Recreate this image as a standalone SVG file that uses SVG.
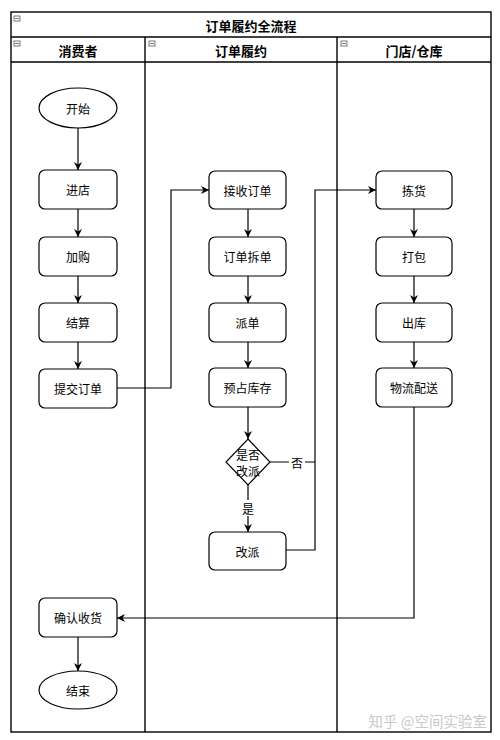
<svg xmlns="http://www.w3.org/2000/svg" width="500" height="740" viewBox="0 0 500 740">
<style>
.t{font-family:"Noto Sans CJK SC","Noto Sans",sans-serif;font-size:12px;fill:#000;text-anchor:middle;dominant-baseline:central}
.h{font-family:"Noto Sans CJK SC","Noto Sans",sans-serif;font-size:13px;font-weight:bold;fill:#000;text-anchor:middle;dominant-baseline:central}
.n{fill:#fff;stroke:#000;stroke-width:1.2}
.c{fill:none;stroke:#000;stroke-width:1.2}
.lane{fill:none;stroke:#000;stroke-width:1.4}
.ic{fill:#fff;stroke:#555;stroke-width:0.8}
</style>
<defs>
<marker id="a" viewBox="0 0 10 10" refX="10" refY="5" markerWidth="8" markerHeight="8" orient="auto" markerUnits="userSpaceOnUse">
<path d="M0,0 L10,5 L0,10 L3,5 z" fill="#000"/>
</marker>
</defs>
<rect width="500" height="740" fill="#fff"/>
<g id="pool">
<rect class="lane" x="11" y="12" width="480" height="720"/>
<line class="lane" x1="11" y1="37" x2="491" y2="37"/>
<line class="lane" x1="11" y1="62" x2="491" y2="62"/>
<line class="lane" x1="145" y1="37" x2="145" y2="732"/>
<line class="lane" x1="337" y1="37" x2="337" y2="732"/>
<text class="h" x="251" y="25">订单履约全流程</text>
<text class="h" x="78" y="50">消费者</text>
<text class="h" x="241" y="50">订单履约</text>
<text class="h" x="414" y="50">门店/仓库</text>
<rect class="ic" x="14" y="16" width="6" height="5"/><line x1="15" y1="18.5" x2="19" y2="18.5" stroke="#555" stroke-width="0.8"/>
<rect class="ic" x="14" y="41" width="6" height="5"/><line x1="15" y1="43.5" x2="19" y2="43.5" stroke="#555" stroke-width="0.8"/>
<rect class="ic" x="149" y="41" width="6" height="5"/><line x1="150" y1="43.5" x2="154" y2="43.5" stroke="#555" stroke-width="0.8"/>
<rect class="ic" x="341" y="41" width="6" height="5"/><line x1="342" y1="43.5" x2="346" y2="43.5" stroke="#555" stroke-width="0.8"/>
</g>
<g id="connectors">
<line class="c" x1="78" y1="128" x2="78" y2="170" marker-end="url(#a)"/>
<line class="c" x1="78" y1="209" x2="78" y2="237" marker-end="url(#a)"/>
<line class="c" x1="78" y1="276" x2="78" y2="303" marker-end="url(#a)"/>
<line class="c" x1="78" y1="342" x2="78" y2="369" marker-end="url(#a)"/>
<polyline class="c" points="117,388 171,388 171,190 209,190" marker-end="url(#a)"/>
<line class="c" x1="248" y1="209" x2="248" y2="237" marker-end="url(#a)"/>
<line class="c" x1="248" y1="276" x2="248" y2="303" marker-end="url(#a)"/>
<line class="c" x1="248" y1="342" x2="248" y2="368" marker-end="url(#a)"/>
<line class="c" x1="248" y1="407" x2="248" y2="439" marker-end="url(#a)"/>
<line class="c" x1="248" y1="485" x2="248" y2="532" marker-end="url(#a)"/>
<rect x="240" y="500" width="16" height="16" fill="#fff"/>
<text class="t" x="248" y="508">是</text>
<polyline class="c" points="270,462 315,462"/>
<rect x="289" y="454" width="16" height="16" fill="#fff"/>
<text class="t" x="297" y="462">否</text>
<polyline class="c" points="286,550 315,550 315,190 376,190" marker-end="url(#a)"/>
<line class="c" x1="414" y1="209" x2="414" y2="237" marker-end="url(#a)"/>
<line class="c" x1="414" y1="276" x2="414" y2="303" marker-end="url(#a)"/>
<line class="c" x1="414" y1="342" x2="414" y2="368" marker-end="url(#a)"/>
<polyline class="c" points="414,407 414,618 117,618" marker-end="url(#a)"/>
<line class="c" x1="78" y1="637" x2="78" y2="671" marker-end="url(#a)"/>
</g>
<g id="start"><ellipse class="n" cx="78" cy="108" rx="39" ry="20"/><text class="t" x="78" y="108">开始</text></g>
<g id="enter"><rect class="n" x="39" y="170" width="78" height="39" rx="6"/><text class="t" x="78" y="189.5">进店</text></g>
<g id="cart"><rect class="n" x="39" y="237" width="78" height="39" rx="6"/><text class="t" x="78" y="256.5">加购</text></g>
<g id="pay"><rect class="n" x="39" y="303" width="78" height="39" rx="6"/><text class="t" x="78" y="322.5">结算</text></g>
<g id="submit"><rect class="n" x="39" y="369" width="78" height="39" rx="6"/><text class="t" x="78" y="388.5">提交订单</text></g>
<g id="receive"><rect class="n" x="209" y="171" width="77" height="38" rx="6"/><text class="t" x="247.5" y="190">接收订单</text></g>
<g id="split"><rect class="n" x="209" y="237" width="77" height="39" rx="6"/><text class="t" x="247.5" y="256.5">订单拆单</text></g>
<g id="dispatch"><rect class="n" x="209" y="303" width="77" height="39" rx="6"/><text class="t" x="247.5" y="322.5">派单</text></g>
<g id="reserve"><rect class="n" x="209" y="368" width="77" height="39" rx="6"/><text class="t" x="247.5" y="387.5">预占库存</text></g>
<g id="decision"><polygon class="n" points="248,439 270,462 248,485 226,462"/><text class="t" x="248" y="454.5">是否</text><text class="t" x="248" y="470">改派</text></g>
<g id="redispatch"><rect class="n" x="209" y="532" width="77" height="38" rx="6"/><text class="t" x="247.5" y="551">改派</text></g>
<g id="pick"><rect class="n" x="376" y="171" width="76" height="38" rx="6"/><text class="t" x="414" y="190">拣货</text></g>
<g id="pack"><rect class="n" x="376" y="237" width="76" height="39" rx="6"/><text class="t" x="414" y="256.5">打包</text></g>
<g id="out"><rect class="n" x="376" y="303" width="76" height="39" rx="6"/><text class="t" x="414" y="322.5">出库</text></g>
<g id="ship"><rect class="n" x="376" y="368" width="76" height="39" rx="6"/><text class="t" x="414" y="387.5">物流配送</text></g>
<g id="confirm"><rect class="n" x="39" y="598" width="78" height="39" rx="6"/><text class="t" x="78" y="617.5">确认收货</text></g>
<g id="end"><ellipse class="n" cx="78" cy="690" rx="39" ry="19"/><text class="t" x="78" y="690">结束</text></g>
<text x="487" y="720" font-family="'Noto Sans CJK SC',sans-serif" font-size="14.5" fill="#c8c8c8" text-anchor="end" dominant-baseline="central">知乎 @空间实验室</text>
</svg>
